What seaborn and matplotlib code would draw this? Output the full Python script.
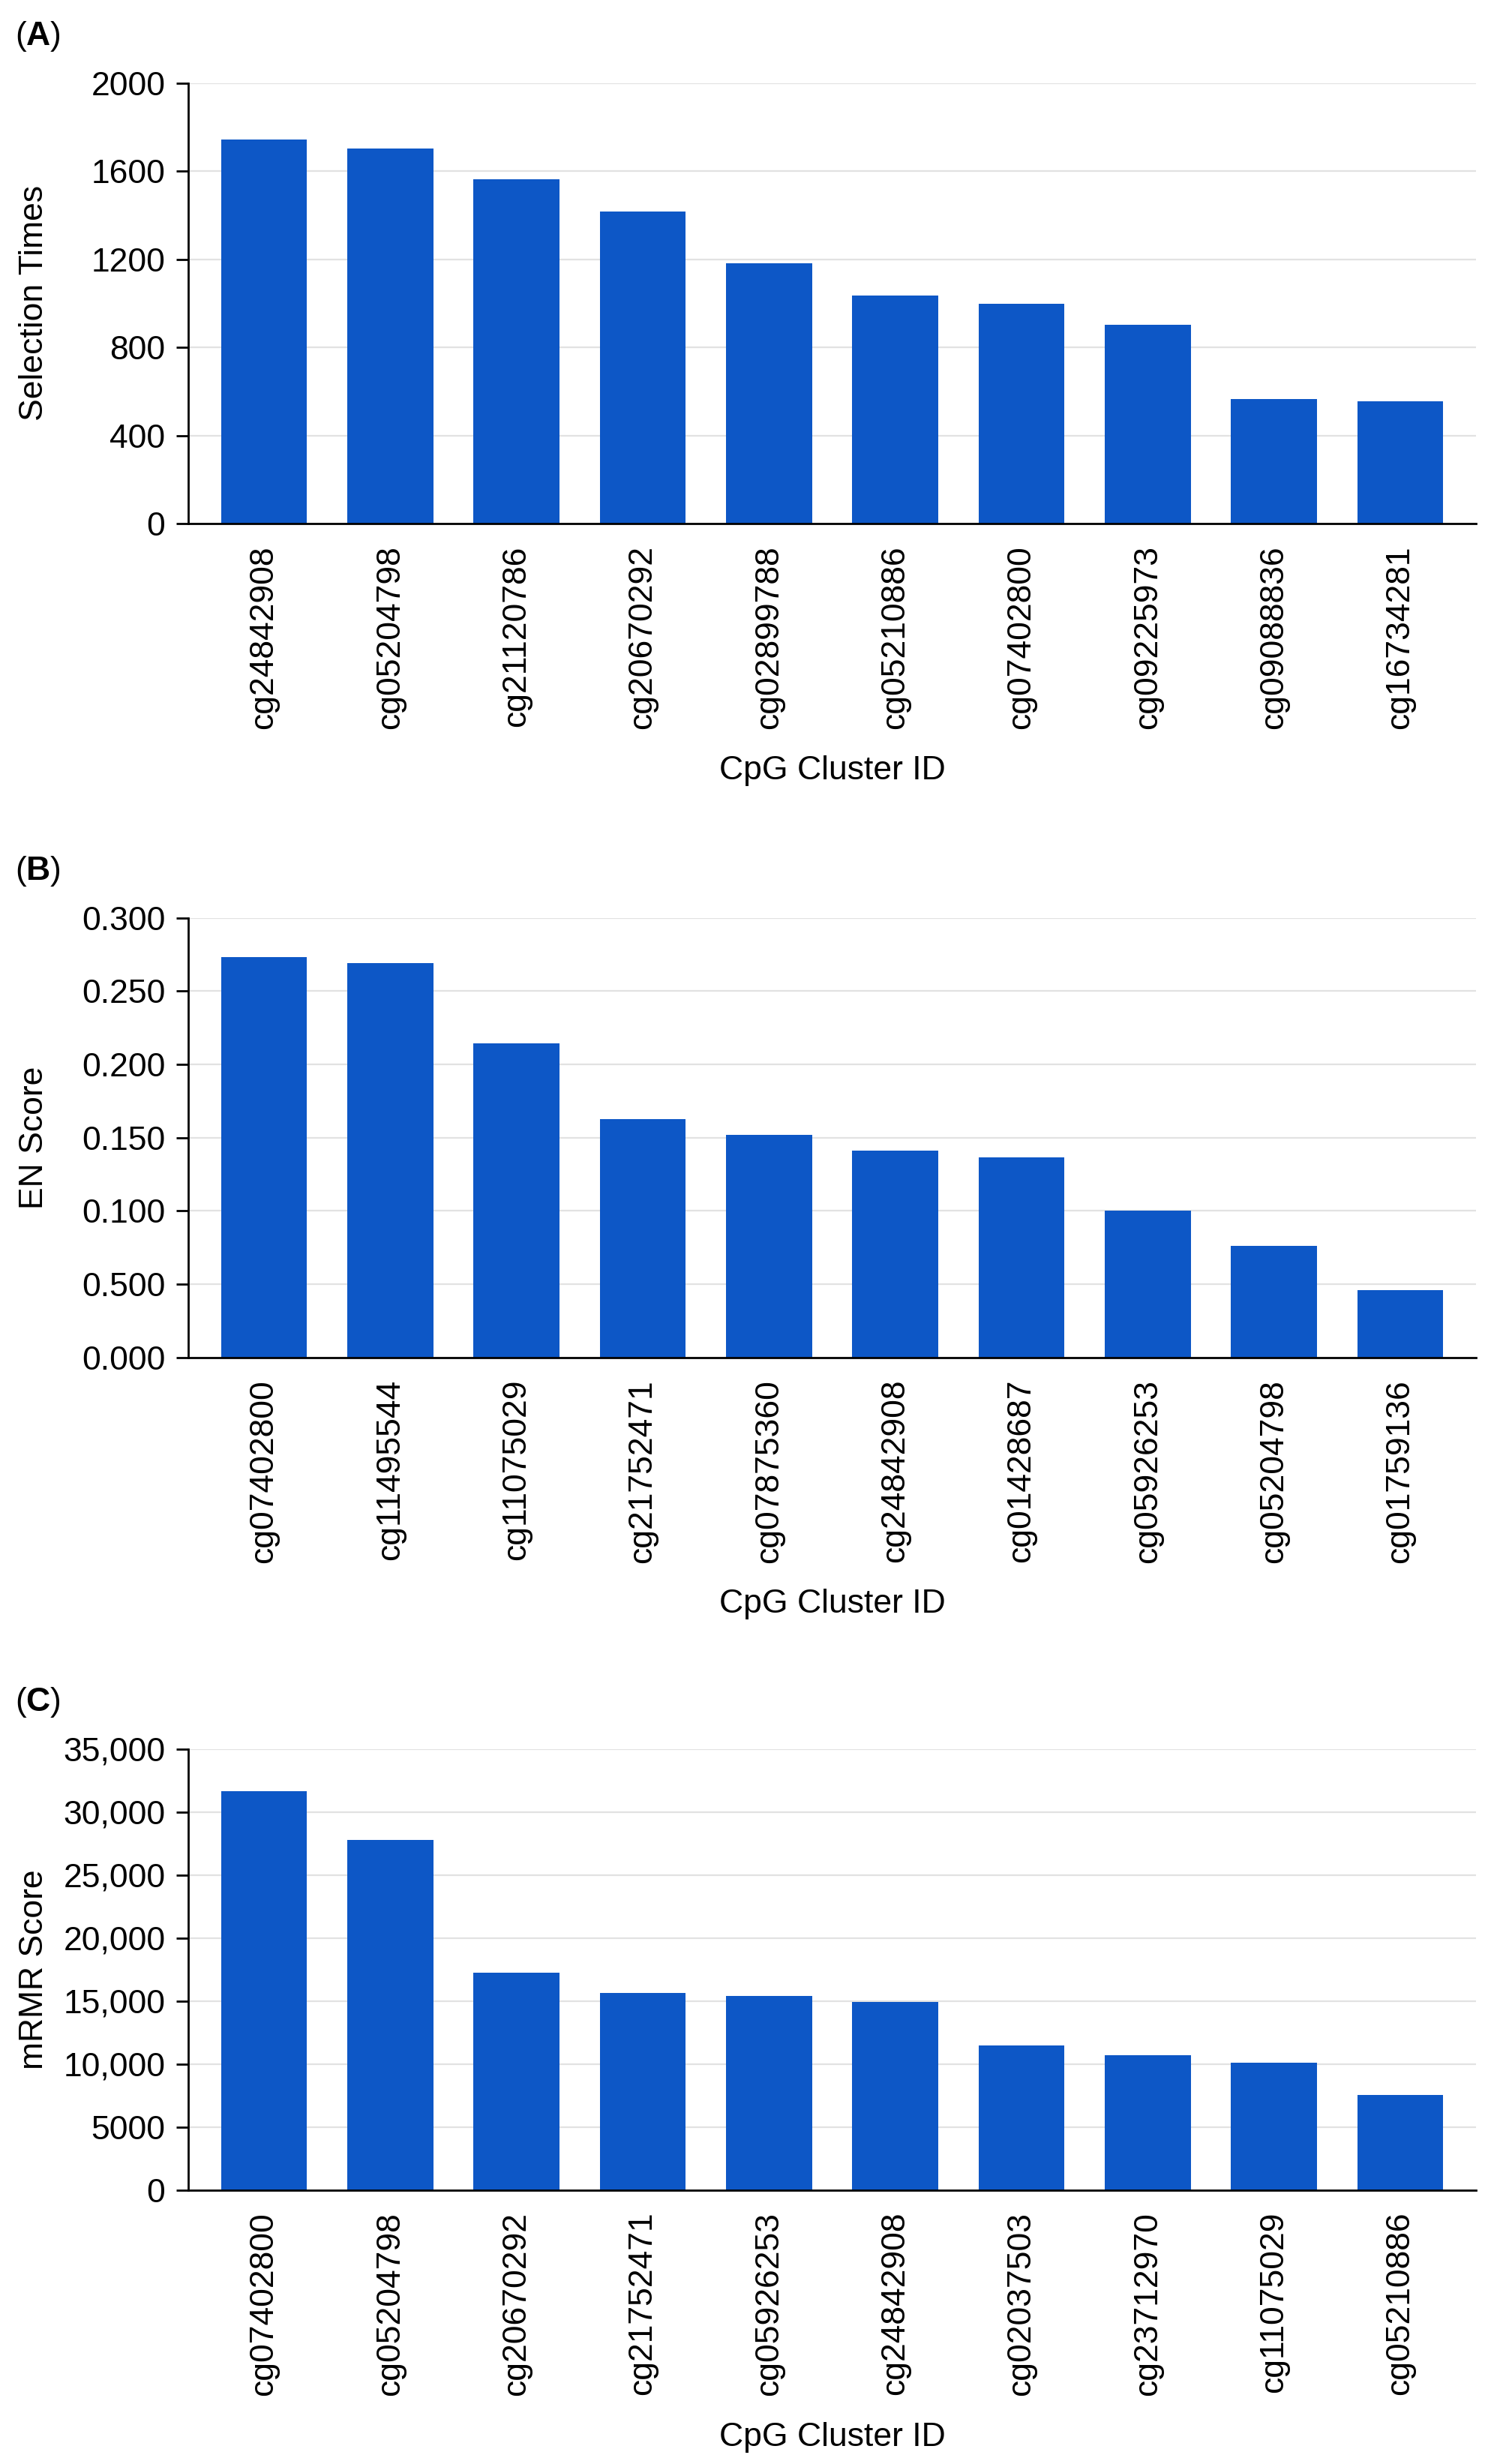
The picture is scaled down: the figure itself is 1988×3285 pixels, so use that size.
import matplotlib
matplotlib.use("Agg")
import matplotlib.pyplot as plt
import seaborn as sns
import pandas as pd

# ---------------- data ----------------
ids_a = ["cg24842908", "cg05204798", "cg21120786", "cg20670292", "cg02899788",
         "cg05210886", "cg07402800", "cg09225973", "cg09088836", "cg16734281"]
vals_a = [1742, 1703, 1563, 1416, 1181, 1036, 997, 904, 567, 555]
yticks_a = [0, 400, 800, 1200, 1600, 2000]
yticklabels_a = ["0", "400", "800", "1200", "1600", "2000"]

ids_b = ["cg07402800", "cg11495544", "cg11075029", "cg21752471", "cg07875360",
         "cg24842908", "cg01428687", "cg05926253", "cg05204798", "cg01759136"]
vals_b = [0.2733, 0.2690, 0.2143, 0.1625, 0.1517, 0.1414, 0.1367, 0.1003, 0.0764, 0.0458]
yticks_b = [0.0, 0.05, 0.10, 0.15, 0.20, 0.25, 0.30]
yticklabels_b = ["0.000", "0.500", "0.100", "0.150", "0.200", "0.250", "0.300"]

ids_c = ["cg07402800", "cg05204798", "cg20670292", "cg21752471", "cg05926253",
         "cg24842908", "cg02037503", "cg23712970", "cg11075029", "cg05210886"]
vals_c = [31650, 27800, 17240, 15610, 15390, 14940, 11460, 10710, 10110, 7560]
yticks_c = [0, 5000, 10000, 15000, 20000, 25000, 30000, 35000]
yticklabels_c = ["0", "5000", "10,000", "15,000", "20,000", "25,000", "30,000", "35,000"]

ylabels = ["Selection Times", "EN Score", "mRMR Score"]
xlabel = "CpG Cluster ID"
panel_tags = ["A", "B", "C"]

# ---------------- style ----------------
sns.set_theme(style="white")
plt.rcParams["font.family"] = ["Liberation Sans", "DejaVu Sans"]
plt.rcParams["mathtext.fontset"] = "custom"
plt.rcParams["mathtext.rm"] = "Liberation Sans"
plt.rcParams["mathtext.bf"] = "Liberation Sans:bold"

BAR = "#0D57C6"
GRID = "#E2E2E2"
FS = 32

W, H = 1988, 3285
fig = plt.figure(figsize=(W / 100, H / 100), dpi=100)

left_px, right_px = 251, 1968
panels = [
    (ids_a, vals_a, yticks_a, yticklabels_a, 110.7, 698.0),
    (ids_b, vals_b, yticks_b, yticklabels_b, 1223.7, 1809.8),
    (ids_c, vals_c, yticks_c, yticklabels_c, 2331.7, 2919.6),
]

for i, (ids, vals, yt, ytl, top_px, bot_px) in enumerate(panels):
    ax = fig.add_axes([left_px / W, 1 - bot_px / H,
                       (right_px - left_px) / W, (bot_px - top_px) / H])
    df = pd.DataFrame({"id": ids, "val": vals})
    sns.barplot(data=df, x="id", y="val", color=BAR, saturation=1,
                width=0.683, linewidth=0, ax=ax, zorder=3)
    ax.set_xlim(-0.6, 9.6)
    ax.set_ylim(yt[0], yt[-1])
    ax.set_yticks(yt)
    ax.set_yticklabels(ytl, fontsize=FS)
    ax.yaxis.grid(True, color=GRID, linewidth=1.6, zorder=0)
    ax.xaxis.grid(False)
    ax.set_axisbelow(True)
    for s in ["top", "right"]:
        ax.spines[s].set_visible(False)
    for s in ["left", "bottom"]:
        ax.spines[s].set_color("black")
        ax.spines[s].set_linewidth(2)
        ax.spines[s].set_zorder(4)
    ax.tick_params(axis="y", left=True, length=11.5, width=2, color="black",
                   pad=10.5, labelsize=FS, labelcolor="black")
    ax.tick_params(axis="x", bottom=False, length=0, pad=21, labelsize=FS,
                   labelcolor="black")
    ax.set_xticks(range(len(ids)))
    ax.set_xticklabels(ids, rotation=90, fontsize=FS)
    ax.set_ylabel(ylabels[i], fontsize=FS, color="black")
    ax.yaxis.set_label_coords(-0.108, 0.5)
    ax.set_xlabel(xlabel, fontsize=FS, color="black")
    ax.xaxis.set_label_coords(0.5, -0.526)
    fig.text(20 / W, 1 - (top_px - 40) / H, r"($\mathbf{%s}$)" % panel_tags[i],
             fontsize=FS, ha="left", va="bottom", color="black")

fig.savefig("out.png", dpi=100, facecolor="white")
